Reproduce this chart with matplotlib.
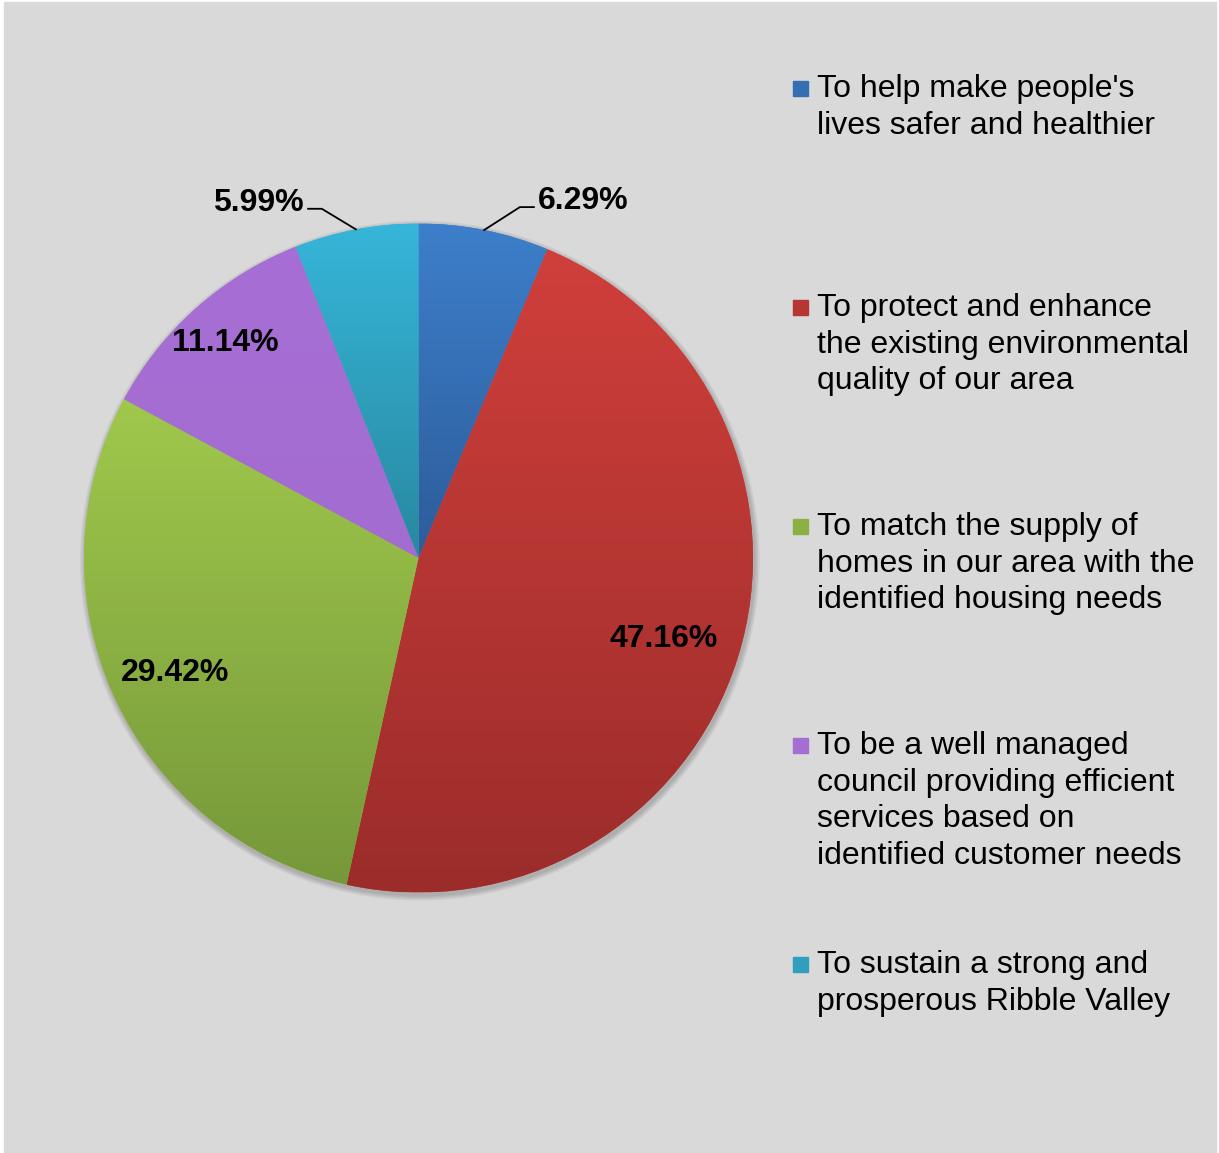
import numpy as np
import matplotlib
matplotlib.use("Agg")
import matplotlib.pyplot as plt
from matplotlib.patches import Rectangle, Circle
from matplotlib.colors import LinearSegmentedColormap, to_rgb

# Data
labels = [
    "To help make people's\nlives safer and healthier",
    "To protect and enhance\nthe existing environmental\nquality of our area",
    "To match the supply of\nhomes in our area with the\nidentified housing needs",
    "To be a well managed\ncouncil providing efficient\nservices based on\nidentified customer needs",
    "To sustain a strong and\nprosperous Ribble Valley",
]
values = [6.29, 47.16, 29.42, 11.14, 5.99]

# gradient colours (top, bottom) per slice
top_colors = ["#3D7FCB", "#D03F3B", "#A0C84C", "#A76FD5", "#36B6D9"]
bottom_colors = ["#2D5C9A", "#9A2C2A", "#76983A", "#A36CD0", "#2888A0"]

W, H, DPI = 1219, 1153, 100
plt.rcParams['font.family'] = ['Liberation Sans', 'DejaVu Sans']

fig = plt.figure(figsize=(W / DPI, H / DPI), dpi=DPI, facecolor="white")
fig.patches.append(Rectangle((4 / W, 0), 1212 / W, 1151 / H,
                             transform=fig.transFigure, color="#D9D9D9", zorder=-10))

# pie axes: centre (418.5, 558) px, radius 334.5 px
cx, cy, R = 418.5, 558, 334.5
ax = fig.add_axes([(cx - R) / W, (H - cy - R) / H, 2 * R / W, 2 * R / H])
ax.set_xlim(-1, 1)
ax.set_ylim(-1, 1)
ax.set_aspect("equal")
ax.axis("off")

# soft shadow
for i in range(4):
    ax.add_patch(Circle((0.004, -0.008), 1.0 + 0.004 * (i + 1), color="black",
                        alpha=0.05, lw=0, zorder=0, clip_on=False))

wedges, _ = ax.pie(values, startangle=90, counterclock=False, radius=1,
                   colors=top_colors, wedgeprops=dict(linewidth=0))

for w, c0, c1 in zip(wedges, top_colors, bottom_colors):
    w.set_zorder(1)
    verts = w.get_patch_transform().transform(w.get_path().vertices)
    xmin, ymin = verts.min(axis=0)
    xmax, ymax = verts.max(axis=0)
    cmap = LinearSegmentedColormap.from_list("g", [c1, c0])
    grad = np.linspace(0, 1, 256).reshape(-1, 1)
    im = ax.imshow(grad, cmap=cmap, extent=[xmin, xmax, ymin, ymax],
                   origin="lower", aspect="auto", zorder=2, interpolation="bilinear")
    im.set_clip_path(w)

ax.set_xlim(-1, 1)
ax.set_ylim(-1, 1)

# data labels
fs = 23
angles = []
start = 90.0
for v in values:
    span = v * 3.6
    angles.append(start - span / 2)
    start -= span

inside_r = {1: 0.77, 2: 0.80, 3: 0.87}
for i, v in enumerate(values):
    t = np.deg2rad(angles[i])
    txt = f"{v:.2f}%"
    if i in inside_r:
        r = inside_r[i]
        ax.text(r * np.cos(t), r * np.sin(t) - 0.009, txt, ha="center", va="center",
                fontsize=fs, fontweight="bold", zorder=5)
    else:
        side = 1 if np.cos(t) > 0 else -1
        p0 = (np.cos(t), np.sin(t))
        if side > 0:
            p1, p2 = (0.303, 1.049), (0.345, 1.049)
        else:
            p1, p2 = (-0.289, 1.044), (-0.330, 1.044)
        ax.plot([p0[0], p1[0], p2[0]], [p0[1], p1[1], p2[1]], color="black",
                lw=1.3, zorder=5, clip_on=False)
        ax.text(p2[0] + side * 0.012, 1.068 if side > 0 else 1.062, txt,
                ha="left" if side > 0 else "right",
                va="center", fontsize=fs, fontweight="bold", zorder=5, clip_on=False)

# legend
tx = 817 / W
for i, (lab, c0, c1) in enumerate(zip(labels, top_colors, bottom_colors)):
    y_line = 88 + 219 * i
    fig.text(tx, 1 - (y_line - 14) / H, lab, ha="left", va="top", fontsize=fs,
             linespacing=1.29)
    mid = tuple((a + b) / 2 for a, b in zip(to_rgb(c0), to_rgb(c1)))
    fig.patches.append(Rectangle((793 / W, 1 - (y_line + 8) / H), 15 / W, 15 / H,
                                 transform=fig.transFigure, color=mid))

fig.savefig("out.png", dpi=DPI, facecolor=fig.get_facecolor())
